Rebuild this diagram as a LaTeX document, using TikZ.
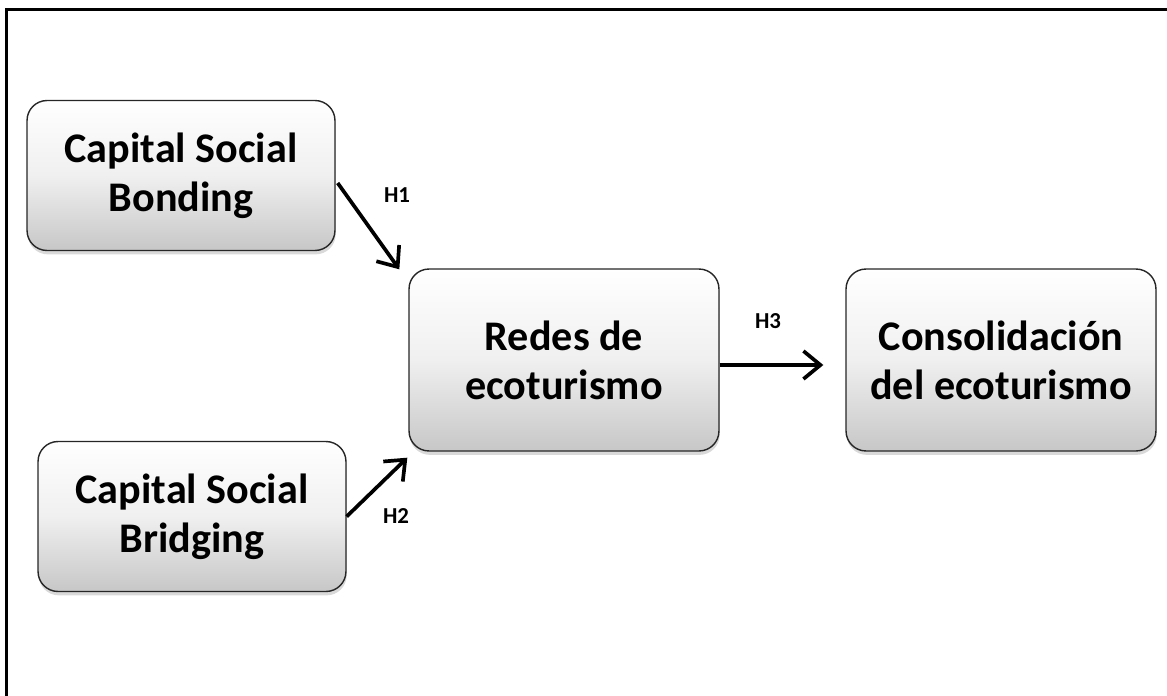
\documentclass[tikz,border=0pt]{standalone}
\usepackage{fontspec}
\setmainfont{Carlito}
\usetikzlibrary{arrows.meta, shadows}

\begin{document}
\begin{tikzpicture}[x=0.02cm, y=-0.02cm,
  concept/.style = {draw=black!85, line width=0.8pt, rounded corners=0.4cm,
    top color=white, bottom color=black!22, middle color=black!6,
    drop shadow={shadow xshift=0.4pt, shadow yshift=-2.2pt, opacity=0.3},
    align=center, font=\fontsize{24}{28}\selectfont\bfseries,
    minimum width=6.16cm, minimum height=3cm},
  wide/.style    = {minimum width=6.2cm, minimum height=3.64cm},
  link/.style    = {line width=2.1pt, -{Straight Barb[length=3.4mm, width=5.6mm, line width=2.1pt]}},
  hyp/.style     = {font=\fontsize{13}{14}\selectfont\bfseries, inner sep=0pt}
  ]
  \useasboundingbox (0,0) rectangle (1167,696);
  \draw[line width=1.7pt] (6.5,696) -- (6.5,9.5) -- (1167,9.5);

  \node[concept] (bonding) at (181,175.5) {Capital Social\\Bonding};
  \node[concept] (bridging) at (192,516.5) {Capital Social\\Bridging};
  \node[concept, wide] (redes) at (564,360) {Redes de\\ecoturismo};
  \node[concept, wide] (consol) at (1001,360) {Consolidación\\del ecoturismo};

  \draw[link] ([xshift=0.04cm, yshift=-0.15cm]bonding.east)
    -- ([xshift=-0.18cm, yshift=-0.02cm]redes.north west);
  \draw[link] (bridging.east)
    -- ([xshift=-0.02cm, yshift=-0.12cm]redes.south west);
  \draw[link] ([yshift=-0.1cm]redes.east)
    -- ([xshift=-0.44cm, yshift=-0.1cm]consol.west);

  \node[hyp] (h1) at (397,195) {H1};
  \node[hyp] (h2) at (396,516) {H2};
  \node[hyp] (h3) at (768,321) {H3};
\end{tikzpicture}
\end{document}
